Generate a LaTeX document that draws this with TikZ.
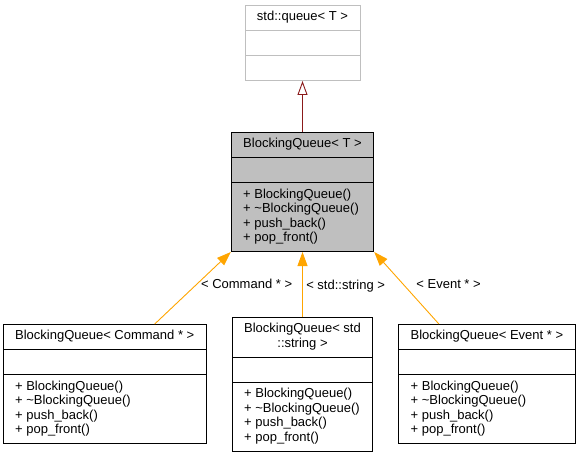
\documentclass[tikz,border=0pt]{standalone}
\usepackage{fontspec}
\setmainfont{Liberation Sans}
\definecolor{inherit}{RGB}{139,26,26}
\definecolor{templ}{RGB}{255,165,0}
\definecolor{extgray}{RGB}{191,191,191}
\usetikzlibrary{arrows.meta,positioning,shapes.multipart}

\begin{document}
\begin{tikzpicture}[x=1pt, y=1pt,
    every node/.style={font=\fontsize{13}{14.6}\selectfont},
    cls/.style={rectangle split, rectangle split parts=3, draw, line width=0.9pt,
      inner xsep=12pt, inner ysep=4.8pt, align=left,
      rectangle split part align={center,left,left}},
    inh/.style={draw=inherit, line width=0.9pt, -{Triangle[open, length=14pt, width=10pt]}},
    tmpl/.style={draw=templ, line width=0.9pt, -{Triangle[length=14pt, width=10pt]}},
    lbl/.style={text=black, inner sep=3.3pt}]
    \useasboundingbox (0,0) rectangle (577,-457);

    % the template class and its base
    \node[cls, fill=extgray, anchor=north] (bq) at (302.5,-132)
        {\strut BlockingQueue< T >
         \nodepart{two}\strut
         \nodepart{three}\strut + BlockingQueue()\\\strut + \textasciitilde BlockingQueue()\\\strut + push\_back()\\\strut + pop\_front()};
    \node[cls, draw=extgray, above=51pt of bq] (queue)
        {\strut std::queue< T >
         \nodepart{two}\strut
         \nodepart{three}\strut};

    % instances
    \node[cls, below left=72pt and 24pt of bq] (cmd)
        {\strut BlockingQueue< Command * >
         \nodepart{two}\strut
         \nodepart{three}\strut + BlockingQueue()\\\strut + \textasciitilde BlockingQueue()\\\strut + push\_back()\\\strut + pop\_front()};
    \node[cls, below=65pt of bq] (str)
        {\begin{tabular}{@{}c@{}}BlockingQueue< std\\::string >\end{tabular}
         \nodepart{two}\strut
         \nodepart{three}\strut + BlockingQueue()\\\strut + \textasciitilde BlockingQueue()\\\strut + push\_back()\\\strut + pop\_front()};
    \node[cls, below right=72pt and 24pt of bq] (evt)
        {\strut BlockingQueue< Event * >
         \nodepart{two}\strut
         \nodepart{three}\strut + BlockingQueue()\\\strut + \textasciitilde BlockingQueue()\\\strut + push\_back()\\\strut + pop\_front()};

    \draw[inh] (bq) -- (queue);
    \draw[tmpl] ([xshift=50pt]cmd.north) -- node[lbl, pos=0.56, right] {< Command * >} (bq.south west);
    \draw[tmpl] (str) -- node[lbl, pos=0.47, right] {< std::string >} (bq);
    \draw[tmpl] ([xshift=-48pt]evt.north) -- node[lbl, pos=0.56, right=10pt] {< Event * >} (bq.south east);
\end{tikzpicture}
\end{document}
